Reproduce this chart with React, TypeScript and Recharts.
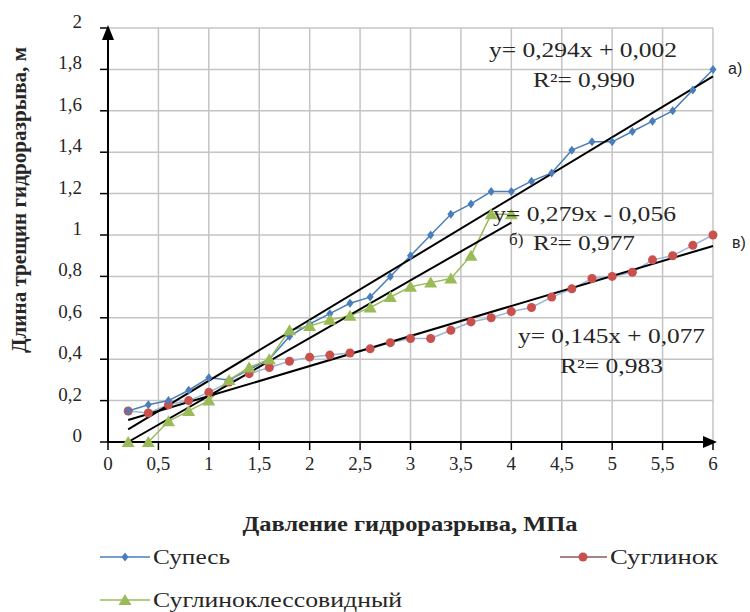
import { CartesianGrid, Line, LineChart, XAxis, YAxis } from 'recharts'

document.body.style.margin = '0'

// pressure, MPa
const pressure = [
  0.2, 0.4, 0.6, 0.8, 1, 1.2, 1.4, 1.6, 1.8, 2, 2.2, 2.4, 2.6, 2.8, 3, 3.2, 3.4, 3.6, 3.8, 4,
  4.2, 4.4, 4.6, 4.8, 5, 5.2, 5.4, 5.6, 5.8, 6,
]

// crack length, m
const supes = [
  0.15, 0.18, 0.2, 0.25, 0.31, 0.3, 0.35, 0.4, 0.51, 0.57, 0.62, 0.67, 0.7, 0.8, 0.9, 1.0, 1.1,
  1.15, 1.21, 1.21, 1.26, 1.3, 1.41, 1.45, 1.45, 1.5, 1.55, 1.6, 1.7, 1.8,
]
const suglinok = [
  0.15, 0.14, 0.18, 0.2, 0.24, 0.29, 0.33, 0.36, 0.39, 0.41, 0.42, 0.43, 0.45, 0.48, 0.5, 0.5,
  0.54, 0.58, 0.6, 0.63, 0.65, 0.7, 0.74, 0.79, 0.8, 0.82, 0.88, 0.9, 0.95, 1.0,
]
const lessovidny = [
  0, 0, 0.1, 0.15, 0.2, 0.3, 0.36, 0.4, 0.54, 0.56, 0.59, 0.61, 0.65, 0.7, 0.75, 0.77, 0.79, 0.9,
  1.1, 1.1,
]

// linear trend end points
const trendSupes = [
  [0.2, 0.061],
  [6, 1.766],
]
const trendSuglinok = [
  [0.2, 0.106],
  [6, 0.947],
]
const trendLess = [
  [0.2, 0],
  [4, 1.06],
]

const xTicks = [0, 0.5, 1, 1.5, 2, 2.5, 3, 3.5, 4, 4.5, 5, 5.5, 6]
const yTicks = [0, 0.2, 0.4, 0.6, 0.8, 1, 1.2, 1.4, 1.6, 1.8, 2]

const BLUE = '#4a7ebb'
const RED = '#c9504d'
const RED_LINE = '#9ab6d6'
const GREEN = '#9bbb59'
const SERIF = 'Liberation Serif, DejaVu Serif, serif'
const SANS = 'Liberation Sans, Arial, sans-serif'
const TEXT = '#262626'

const pts = (ys: number[]) => ys.map((y, i) => ({ x: pressure[i], y }))
const pairs = (p: number[][]) => p.map(([x, y]) => ({ x, y }))
const comma = (v: number) => String(v).replace('.', ',')

function Diamond(props: any) {
  const { cx, cy } = props
  if (cx == null || cy == null) return null
  return <path d={`M${cx},${cy - 4.5}L${cx + 3.5},${cy}L${cx},${cy + 4.5}L${cx - 3.5},${cy}Z`} fill={BLUE} />
}

function Dot(props: any) {
  const { cx, cy } = props
  if (cx == null || cy == null) return null
  return <circle cx={cx} cy={cy} r={4.5} fill={RED} />
}

function Tri(props: any) {
  const { cx, cy } = props
  if (cx == null || cy == null) return null
  return <path d={`M${cx},${cy - 6}L${cx + 6.5},${cy + 5}L${cx - 6.5},${cy + 5}Z`} fill={GREEN} />
}

function SerifTick(props: any) {
  const { x, y, payload, textAnchor, dy } = props
  return (
    <text x={x} y={y} dy={dy} textAnchor={textAnchor} fill={TEXT} fontSize={19} style={{ fontFamily: SERIF }}>
      {comma(payload.value)}
    </text>
  )
}

function Overlay() {
  const t = { fill: TEXT, fontSize: 20, style: { fontFamily: SERIF } }
  const bold = { fill: TEXT, fontSize: 20, fontWeight: 'bold' as const, style: { fontFamily: SERIF } }
  return (
    <svg width={750} height={612} style={{ position: 'absolute', left: 0, top: 0, pointerEvents: 'none' }}>
      {/* axis arrows */}
      <path d="M108,25 L114,40 L102,40 Z" fill="#000" />
      <path d="M717,442 L703,436 L703,448 Z" fill="#000" />

      <text x={489} y={57} textLength={188} lengthAdjust="spacingAndGlyphs" {...t}>y= 0,294x + 0,002</text>
      <text x={533} y={87} textLength={102} lengthAdjust="spacingAndGlyphs" {...t}>R²= 0,990</text>
      <text x={728} y={74} fontSize={16} fill={TEXT} style={{ fontFamily: SANS }}>а)</text>

      <text x={493} y={221} textLength={183} lengthAdjust="spacingAndGlyphs" {...t}>y= 0,279x - 0,056</text>
      <text x={509} y={245} fontSize={17} fill={TEXT} style={{ fontFamily: SERIF }}>б)</text>
      <text x={533} y={250} textLength={102} lengthAdjust="spacingAndGlyphs" {...t}>R²= 0,977</text>
      <text x={732} y={248} fontSize={16} fill={TEXT} style={{ fontFamily: SANS }}>в)</text>

      <text x={518} y={343} textLength={187} lengthAdjust="spacingAndGlyphs" {...t}>y= 0,145x + 0,077</text>
      <text x={560} y={373} textLength={103} lengthAdjust="spacingAndGlyphs" {...t}>R²= 0,983</text>

      {/* axis titles */}
      <text x={410} y={531} textAnchor="middle" textLength={335} lengthAdjust="spacingAndGlyphs" {...bold}>
        Давление гидроразрыва, МПа
      </text>
      <text transform="translate(26,200) rotate(-90)" textAnchor="middle" textLength={306} lengthAdjust="spacingAndGlyphs" {...bold}>
        Длина трещин гидроразрыва, м
      </text>

      {/* legend */}
      <line x1={100} y1={557} x2={150} y2={557} stroke={BLUE} strokeWidth={1.5} />
      <Diamond cx={125} cy={557} />
      <text x={153} y={564} textLength={77} lengthAdjust="spacingAndGlyphs" {...t}>Супесь</text>

      <line x1={560} y1={557} x2={607} y2={557} stroke="#8a5a5a" strokeWidth={1.5} />
      <Dot cx={583} cy={557} />
      <text x={610} y={564} textLength={108} lengthAdjust="spacingAndGlyphs" {...t}>Суглинок</text>

      <line x1={100} y1={600} x2={150} y2={600} stroke={GREEN} strokeWidth={1.5} />
      <Tri cx={125} cy={600} />
      <text x={153} y={607} textLength={249} lengthAdjust="spacingAndGlyphs" {...t}>Суглиноклессовидный</text>
    </svg>
  )
}

export default function App() {
  return (
    <div style={{ position: 'relative', width: 750, height: 612, background: '#fff' }}>
      <LineChart width={750} height={612} margin={{ top: 28, right: 37, left: 0, bottom: 0 }}>
        <CartesianGrid stroke="#c4c4c4" strokeWidth={1.5} />
        <XAxis
          type="number"
          dataKey="x"
          domain={[0, 6]}
          ticks={xTicks}
          height={170}
          tick={<SerifTick />}
          tickSize={8}
          tickMargin={20}
          axisLine={{ stroke: '#000', strokeWidth: 2 }}
          tickLine={{ stroke: '#000', strokeWidth: 1.5 }}
        />
        <YAxis
          type="number"
          domain={[0, 2]}
          ticks={yTicks}
          width={108}
          tick={<SerifTick />}
          tickSize={8}
          tickMargin={18}
          axisLine={{ stroke: '#000', strokeWidth: 2 }}
          tickLine={{ stroke: '#000', strokeWidth: 1.5 }}
        />
        <Line data={pts(suglinok)} dataKey="y" stroke={RED_LINE} strokeWidth={1.5} dot={<Dot />} isAnimationActive={false} />
        <Line data={pts(supes)} dataKey="y" stroke={BLUE} strokeWidth={1.5} dot={<Diamond />} isAnimationActive={false} />
        <Line data={pts(lessovidny)} dataKey="y" stroke={GREEN} strokeWidth={1.5} dot={<Tri />} isAnimationActive={false} />
        <Line data={pairs(trendSupes)} dataKey="y" stroke="#000" strokeWidth={2} dot={false} isAnimationActive={false} />
        <Line data={pairs(trendSuglinok)} dataKey="y" stroke="#000" strokeWidth={2} dot={false} isAnimationActive={false} />
        <Line data={pairs(trendLess)} dataKey="y" stroke="#000" strokeWidth={2} dot={false} isAnimationActive={false} />
      </LineChart>
      <Overlay />
    </div>
  )
}
